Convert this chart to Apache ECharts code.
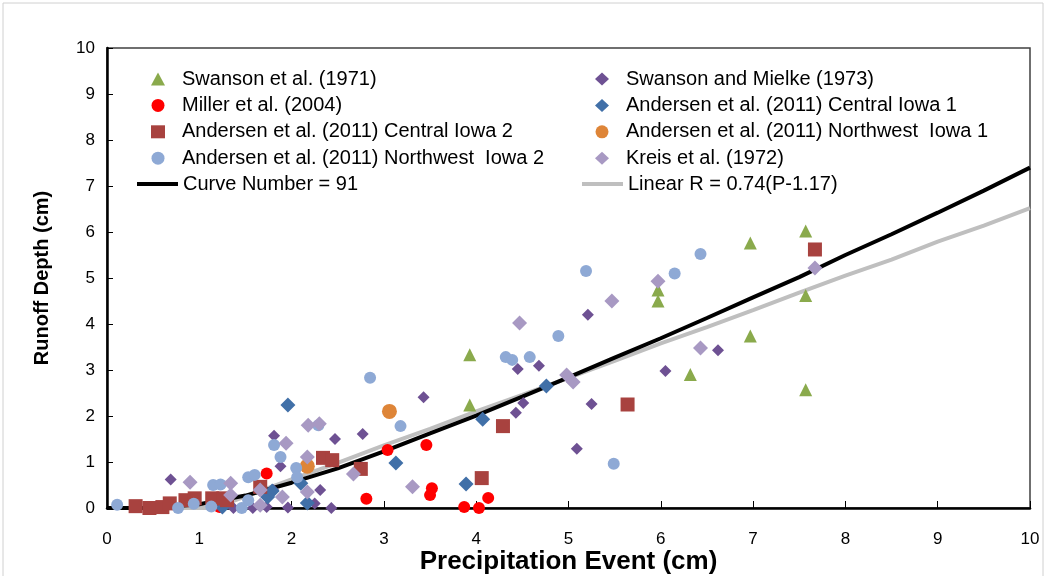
<!DOCTYPE html>
<html>
<head>
<meta charset="utf-8">
<script src="https://cdn.jsdelivr.net/npm/echarts@6/dist/echarts.min.js"></script>
<style>
html,body{margin:0;padding:0;background:#fff;}
#c{width:1047px;height:576px;}
</style>
</head>
<body>
<div id="c"></div>
<script>
// ---- data (x = precipitation cm, y = runoff cm) ----
const swanson1971 = [[7.57,6.02],[6.97,5.76],[5.97,4.74],[5.97,4.50],[7.57,4.62],[6.97,3.74],[3.93,3.33],[6.32,2.90],[7.57,2.57],[3.93,2.24]];
const swansonMielke1973 = [[0.69,0.62],[1.37,0.00],[1.58,0.00],[1.73,0.02],[1.80,0.39],[1.81,1.57],[1.88,0.91],[1.96,0.01],[2.25,0.10],[2.31,0.39],[2.43,0.00],[2.47,1.50],[2.77,1.61],[3.43,2.41],[4.43,2.07],[4.45,3.02],[4.51,2.28],[4.68,3.09],[5.09,1.29],[5.21,4.20],[5.25,2.26],[6.05,2.98],[6.62,3.43]];
const miller2004 = [[1.22,0.02],[1.73,0.75],[2.81,0.20],[3.04,1.26],[3.46,1.37],[3.50,0.28],[3.52,0.43],[3.87,0.02],[4.03,0.00],[4.13,0.22]];
const centralIowa1 = [[1.25,0.02],[1.74,0.24],[1.79,0.37],[1.96,2.24],[2.10,0.54],[2.17,0.11],[3.13,0.98],[3.89,0.52],[4.07,1.93],[4.76,2.65]];
const centralIowa2 = [[0.31,0.04],[0.46,0.00],[0.60,0.02],[0.68,0.10],[0.85,0.17],[0.95,0.21],[1.14,0.21],[1.26,0.21],[1.30,0.17],[1.66,0.46],[2.34,1.09],[2.44,1.04],[2.75,0.85],[4.06,0.65],[4.29,1.78],[5.64,2.25],[7.67,5.62]];
const northwestIowa1 = [[2.17,0.91],[3.06,2.10]];
const northwestIowa2 = [[0.11,0.07],[0.77,0.00],[0.94,0.09],[1.13,0.03],[1.15,0.50],[1.23,0.51],[1.46,0.00],[1.53,0.17],[1.53,0.67],[1.60,0.72],[1.81,1.37],[1.88,1.11],[2.05,0.87],[2.06,0.67],[2.29,1.80],[2.85,2.83],[3.18,1.78],[4.32,3.28],[4.39,3.22],[4.58,3.28],[4.89,3.74],[5.19,5.15],[5.49,0.96],[6.15,5.10],[6.43,5.52]];
const kreis1972 = [[0.90,0.56],[1.34,0.54],[1.34,0.28],[1.66,0.39],[1.66,0.06],[1.90,0.24],[1.94,1.41],[2.17,1.11],[2.17,0.35],[2.18,1.80],[2.30,1.83],[2.67,0.74],[3.31,0.46],[4.47,4.02],[4.98,2.89],[5.05,2.74],[5.47,4.50],[5.97,4.93],[6.43,3.48],[7.67,5.22]];
const curveNumber91 = [[0,0],[0.5,0],[1,0.08],[1.5,0.27],[2,0.55],[2.5,0.86],[3,1.23],[3.5,1.62],[4,2.01],[4.5,2.42],[5,2.84],[5.5,3.27],[6,3.69],[6.5,4.13],[7,4.58],[7.5,5.02],[8,5.50],[8.5,5.95],[9,6.42],[9.5,6.90],[10,7.40]];
const linearFit = [[0,0],[1.17,0],[1.5,0.25],[2,0.62],[2.5,0.98],[3,1.36],[3.5,1.72],[4,2.10],[4.5,2.46],[5,2.83],[5.5,3.20],[6,3.58],[6.5,3.93],[7,4.30],[7.5,4.68],[8,5.05],[8.5,5.40],[9,5.79],[9.5,6.14],[10,6.52]];

const names = {
  s71: 'Swanson et al. (1971)',
  sm73: 'Swanson and Mielke (1973)',
  mil: 'Miller et al. (2004)',
  ci1: 'Andersen et al. (2011) Central Iowa 1',
  ci2: 'Andersen et al. (2011) Central Iowa 2',
  nw1: 'Andersen et al. (2011) Northwest  Iowa 1',
  nw2: 'Andersen et al. (2011) Northwest  Iowa 2',
  kr: 'Kreis et al. (1972)',
  cn: 'Curve Number = 91',
  lin: 'Linear R = 0.74(P-1.17)'
};

const FONT = "'Liberation Sans', Arial, sans-serif";

function scatter(name, data, symbol, size, color, z) {
  return {name, type:'scatter', data, symbol, symbolSize:size, clip:false, z,
    itemStyle:{color, opacity:1}, emphasis:{disabled:true}};
}
const legendText = (pad) => ({fontFamily:FONT, fontSize:20, color:'#000', lineHeight:20, padding:[0,0,0,pad]});
function markerLegend(left, data, pad) {
  return {left, top:69, padding:0, orient:'vertical', itemWidth:14, itemHeight:13, itemGap:6.4,
    data, textStyle:legendText(pad), selectedMode:false};
}
function lineLegend(left, name, pad) {
  return {left, top:174, padding:0, orient:'vertical', itemWidth:41, itemHeight:4, itemGap:6,
    data:[{name, icon:'rect'}], textStyle:legendText(pad), selectedMode:false};
}

const chart = echarts.init(document.getElementById('c'), null, {renderer:'canvas'});
chart.setOption({
  animation:false,
  backgroundColor:'#fff',
  graphic:[{type:'rect', shape:{x:3, y:3, width:1040, height:600}, style:{fill:'none', stroke:'#d0d0d0', lineWidth:1}, silent:true, z:-10}],
  grid:{left:107, top:48, right:17, bottom:68, show:true, borderColor:'#404040', borderWidth:1.5,
    containLabel:false, outerBoundsMode:'none'},
  legend:[
    markerLegend(151, [names.s71, names.mil, names.ci2, names.nw2], 12),
    markerLegend(595, [names.sm73, names.ci1, names.nw1, names.kr], 12),
    lineLegend(137, names.cn, 0),
    lineLegend(582, names.lin, 0)
  ],
  xAxis:{type:'value', min:0, max:10, interval:1,
    name:'Precipitation Event (cm)', nameLocation:'middle', nameGap:41, nameMoveOverlap:false,
    nameTextStyle:{fontFamily:FONT, fontSize:26, fontWeight:'bold', color:'#000'},
    axisLine:{show:true, onZero:false, lineStyle:{color:'#000', width:2.5}},
    axisTick:{show:true, inside:true, length:7, lineStyle:{color:'#000', width:1}},
    axisLabel:{fontFamily:FONT, fontSize:17, color:'#000', margin:23},
    splitLine:{show:false}},
  yAxis:{type:'value', min:0, max:10, interval:1,
    name:'Runoff Depth (cm)', nameLocation:'middle', nameGap:55, nameMoveOverlap:false,
    nameTextStyle:{fontFamily:FONT, fontSize:20, fontWeight:'bold', color:'#000'},
    axisLine:{show:true, onZero:false, lineStyle:{color:'#000', width:2.5}},
    axisTick:{show:true, inside:true, length:6, lineStyle:{color:'#000', width:1}},
    axisLabel:{fontFamily:FONT, fontSize:17, color:'#000', margin:12},
    splitLine:{show:false}},
  series:[
    {name:names.lin, type:'line', data:linearFit, symbol:'none', z:1,
      lineStyle:{color:'#BFBFBF', width:4}, itemStyle:{color:'#BFBFBF'}, emphasis:{disabled:true}},
    {name:names.cn, type:'line', data:curveNumber91, symbol:'none', z:1,
      lineStyle:{color:'#000', width:4}, itemStyle:{color:'#000'}, emphasis:{disabled:true}},
    scatter(names.s71, swanson1971, 'triangle', 13, '#8AAA4C', 2),
    scatter(names.sm73, swansonMielke1973, 'diamond', 12, '#6E5193', 2),
    scatter(names.mil, miller2004, 'circle', 12, '#FF0000', 2),
    scatter(names.ci1, centralIowa1, 'diamond', 15, '#4170A8', 2),
    scatter(names.ci2, centralIowa2, 'rect', 14, '#A8423F', 2),
    scatter(names.nw1, northwestIowa1, 'circle', 15, '#DE8538', 2),
    scatter(names.nw2, northwestIowa2, 'circle', 12, '#8EA9D5', 2),
    scatter(names.kr, kreis1972, 'diamond', 15, '#A899C3', 2)
  ]
});
</script>
</body>
</html>
